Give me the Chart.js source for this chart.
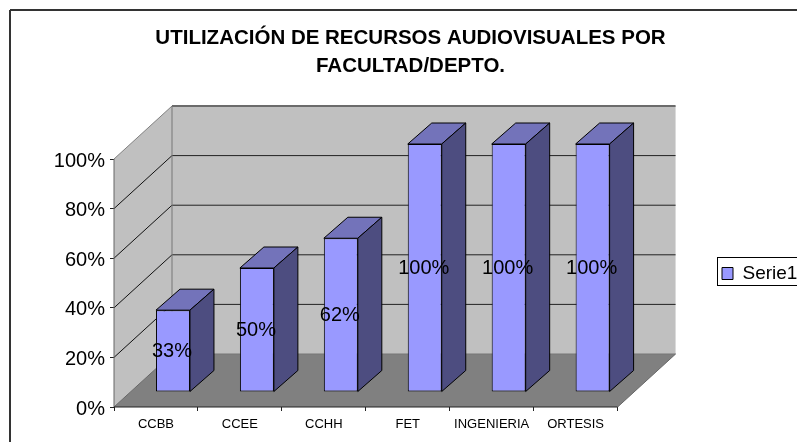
<!DOCTYPE html>
<html>
<head>
<meta charset="utf-8">
<script src="https://cdn.jsdelivr.net/npm/chart.js@4"></script>
<style>
    html, body { margin: 0; padding: 0; background: #fff; overflow: hidden; }
    canvas { display: block; }
</style>
</head>
<body>
<canvas id="myChart" width="797" height="442"></canvas>
<script>
const categories = ['CCBB', 'CCEE', 'CCHH', 'FET', 'INGENIERIA', 'ORTESIS'];
const serie1 = [33, 50, 62, 100, 100, 100];
const titleLines = ['UTILIZACIÓN DE RECURSOS AUDIOVISUALES POR', 'FACULTAD/DEPTO.'];
const seriesName = 'Serie1';

const FONT = '"Liberation Sans", Arial, sans-serif';
// fake 3d offsets: whole floor depth, bar position in it, bar own depth
const wallDx = 58, wallDy = -53;
const barDx = 17, barDy = -15;
const depthDx = 24, depthDy = -21;

function poly(ctx, pts, fill, stroke, lw) {
    ctx.beginPath();
    pts.forEach((p, i) => i ? ctx.lineTo(p[0], p[1]) : ctx.moveTo(p[0], p[1]));
    ctx.closePath();
    if (fill) { ctx.fillStyle = fill; ctx.fill(); }
    if (stroke) { ctx.strokeStyle = stroke; ctx.lineWidth = lw || 1; ctx.stroke(); }
}

function line(ctx, x1, y1, x2, y2, color, lw) {
    ctx.beginPath();
    ctx.moveTo(x1, y1);
    ctx.lineTo(x2, y2);
    ctx.strokeStyle = color;
    ctx.lineWidth = lw || 1;
    ctx.stroke();
}

const fake3d = {
    id: 'fake3d',
    afterLayout(chart) {
        // the legend sits apart from the space it reserves
        const l = chart.legend, p = l.options.labels.padding;
        const w = l.width, h = l.height;
        l.left = 722 - p;
        l.right = l.left + w;
        l.top = 264 - p;
        l.bottom = l.top + h;
    },
    beforeDatasetsDraw(chart) {
        const ctx = chart.ctx, a = chart.chartArea, y = chart.scales.y;
        const L = a.left, R = a.right, T = a.top, B = a.bottom;
        ctx.save();
        // walls and floor
        poly(ctx, [[L + wallDx, T + wallDy], [R + wallDx, T + wallDy], [R + wallDx, B + wallDy], [L + wallDx, B + wallDy]], '#c0c0c0');
        poly(ctx, [[L, T], [L + wallDx, T + wallDy], [L + wallDx, B + wallDy], [L, B]], '#c0c0c0');
        poly(ctx, [[L, B], [L + wallDx, B + wallDy], [R + wallDx, B + wallDy], [R, B]], '#808080');
        // gridlines round the corner
        y.ticks.forEach(t => {
            const py = y.getPixelForValue(t.value);
            if (t.value === 0 || t.value === 100) return;
            line(ctx, L, py, L + wallDx, py + wallDy, '#111');
            line(ctx, L + wallDx, py + wallDy, R + wallDx, py + wallDy, '#222', 1);
        });
        // edges
        line(ctx, L + wallDx, T + wallDy, R + wallDx, T + wallDy, '#6b6b6b', 2);
        line(ctx, L, T, L + wallDx, T + wallDy, '#808080', 1);
        line(ctx, L + wallDx, T + wallDy, L + wallDx, B + wallDy, '#777', 1);
        line(ctx, L, T, L, B, '#666', 1);
        line(ctx, L, B, L + wallDx, B + wallDy, '#666', 1);
        line(ctx, L + wallDx, B + wallDy, R + wallDx, B + wallDy, '#777', 1);
        line(ctx, R, B, R + wallDx, B + wallDy, '#666', 1);
        line(ctx, L, B, R, B, '#222', 1);
        ctx.restore();
    },
    beforeDatasetDraw(chart, args) {
        const ctx = chart.ctx;
        ctx.save();
        ctx.translate(barDx, barDy);
        ctx.lineJoin = 'round';
        args.meta.data.forEach(el => {
            const x1 = el.x - el.width / 2, x2 = el.x + el.width / 2;
            poly(ctx, [[x1, el.y], [x1 + depthDx, el.y + depthDy], [x2 + depthDx, el.y + depthDy], [x2, el.y]], '#7373ba', '#000');
            poly(ctx, [[x2, el.y], [x2 + depthDx, el.y + depthDy], [x2 + depthDx, el.base + depthDy], [x2, el.base]], '#4d4d80', '#000');
        });
    },
    afterDatasetDraw(chart) {
        chart.ctx.restore();
    },
    afterDatasetsDraw(chart) {
        const ctx = chart.ctx;
        ctx.save();
        ctx.font = '20px ' + FONT;
        ctx.fillStyle = '#000';
        ctx.textAlign = 'center';
        ctx.textBaseline = 'middle';
        chart.getDatasetMeta(0).data.forEach((el, i) => {
            ctx.fillText(serie1[i] + '%', el.x + barDx - 1, (el.y + el.base) / 2 + barDy + 1);
        });
        ctx.restore();
    },
    afterDraw(chart) {
        const ctx = chart.ctx;
        ctx.save();
        // outer frame, runs off the right and bottom of the picture
        line(ctx, 10, 443, 10, 10, '#333', 2);
        line(ctx, 10, 10, 798, 10, '#333', 2);
        // legend frame
        ctx.strokeStyle = '#000';
        ctx.lineWidth = 1;
        ctx.strokeRect(717.5, 257.5, 90, 28);
        ctx.restore();
    }
};

new Chart(document.getElementById('myChart'), {
    type: 'bar',
    data: {
        labels: categories,
        datasets: [{
            label: seriesName,
            data: serie1,
            backgroundColor: '#9999ff',
            borderColor: '#000',
            borderWidth: 1,
            borderSkipped: false,
            barPercentage: 0.405,
            categoryPercentage: 1,
            clip: false
        }]
    },
    options: {
        responsive: false,
        animation: false,
        layout: { padding: { left: 24, top: 10, right: 0, bottom: 0 } },
        scales: {
            x: {
                grid: { drawOnChartArea: false, tickLength: 4, color: '#222' },
                border: { display: false },
                ticks: { color: '#000', font: { family: FONT, size: 13 }, maxRotation: 0, autoSkip: false, padding: 6 },
                afterFit(scale) { scale.height = 35; }
            },
            y: {
                min: 0,
                max: 100,
                grid: { drawOnChartArea: false, tickLength: 4, color: '#222' },
                border: { display: false },
                ticks: {
                    stepSize: 20,
                    color: '#000',
                    font: { family: FONT, size: 20 },
                    padding: 5,
                    labelOffset: 2,
                    callback: v => v + '%'
                },
                afterFit(scale) { scale.width = 90; }
            }
        },
        plugins: {
            title: {
                display: true,
                text: titleLines,
                color: '#000',
                font: { family: FONT, size: 20.5, weight: 'bold', lineHeight: 1.366 },
                padding: { top: 14, bottom: 79 }
            },
            legend: {
                display: true,
                position: 'right',
                align: 'start',
                labels: {
                    color: '#000',
                    font: { family: FONT, size: 19 },
                    boxWidth: 11,
                    boxHeight: 12,
                    padding: 94
                }
            },
            tooltip: { enabled: false }
        }
    },
    plugins: [fake3d]
});
</script>
</body>
</html>
